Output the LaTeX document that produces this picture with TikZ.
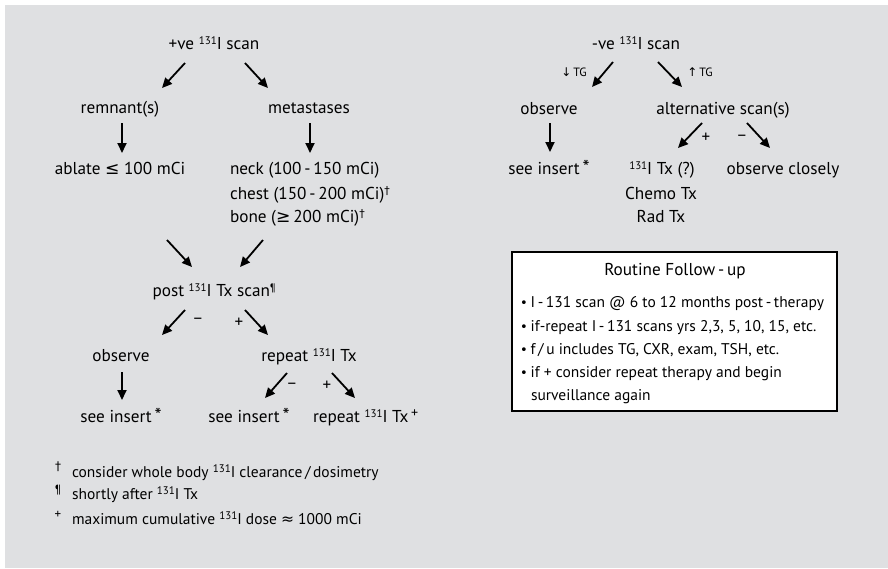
\documentclass[tikz,border=0pt]{standalone}
\usepackage{fontspec}
\setmainfont{PT Sans}
\newfontfamily\symf{DejaVu Sans}
\usetikzlibrary{arrows.meta,calc}
\definecolor{panel}{RGB}{223,224,226}
% small raised superscript (isotope mass numbers, footnote marks)
\newcommand{\sups}[1]{\raisebox{5pt}{\fontsize{11}{11}\selectfont #1}}
\newcommand{\iod}{\sups{131}I}
\newcommand{\sym}[1]{{\symf #1}}
\newcommand{\insstar}{\,{\fontsize{20}{20}\selectfont *}}
\begin{document}
\begin{tikzpicture}[x=1pt,y=-1pt,
  every node/.style={inner sep=0pt,outer sep=0pt,font=\fontsize{17.2}{23}\selectfont},
  txt/.style={anchor=base},
  ltxt/.style={anchor=base west},
  small/.style={font=\fontsize{15.5}{23}\selectfont},
  arr/.style={line width=1.8pt,-{Triangle[length=10pt,width=9pt]}},
  sgn/.style={font=\fontsize{17}{17}\selectfont},
  tg/.style={font=\fontsize{12}{12}\selectfont},
  fubox/.style={draw=black,line width=1.2pt,fill=white,minimum width=325pt,minimum height=159pt}]
\useasboundingbox (0,0) rectangle (888,568);
\fill[white] (0,0) rectangle (888,568);
\fill[panel] (5,5) rectangle (888,568);

% ---------- positive scan branch ----------
\node[txt] (pos) at (214,49) {+ve \iod\ scan};
\node[txt] (rem) at (120,113) {remnant(s)};
\node[txt] (met) at (309,113) {metastases};
\node[txt] (abl) at (120,174) {ablate \sym{≤} 100 mCi};
\node[ltxt] (neck) at (230,174) {neck (100\,-\,150 mCi)};
\node[ltxt] (chest) at (230,199) {chest (150\,-\,200 mCi)\sups{\sym{†}}};
\node[ltxt] (bone) at (230,222) {bone (\sym{≥}\,200 mCi)\sups{\sym{†}}};
\node[txt] (post) at (214,296) {post \iod\ Tx scan\sups{¶}};
\node[txt] (obs1) at (121,361) {observe};
\node[txt] (rep1) at (309,361) {repeat \iod\ Tx};
\node[txt] (see1) at (121,422) {see insert\insstar};
\node[txt] (see2) at (249,422) {see insert\insstar};
\node[ltxt] (rep2) at (313,422) {repeat \iod\ Tx\,\sups{\fontsize{14}{14}\selectfont +}};

\coordinate (a1s) at (185,63);  \coordinate (a1e) at (162,88);
\coordinate (a2s) at (245,63);  \coordinate (a2e) at (268,88);
\coordinate (a3s) at (122,123); \coordinate (a3e) at (122,153);
\coordinate (a4s) at (310,123); \coordinate (a4e) at (310,153);
\coordinate (a5s) at (167,240); \coordinate (a5e) at (192,267);
\coordinate (a6s) at (263,240); \coordinate (a6e) at (240,267);
\coordinate (a7s) at (185,310); \coordinate (a7e) at (162,335);
\coordinate (a8s) at (245,310); \coordinate (a8e) at (268,335);
\coordinate (a9s) at (122,372); \coordinate (a9e) at (122,400);
\coordinate (a10s) at (287,373); \coordinate (a10e) at (265,398);
\coordinate (a11s) at (332,373); \coordinate (a11e) at (355,398);
\foreach \i in {1,...,11} \draw[arr] (a\i s) -- (a\i e);
\node[sgn] (m1) at (198,321) {−};
\node[sgn] (p1) at (239,323) {+};
\node[sgn] (m2) at (292,386) {−};
\node[sgn] (p2) at (327,386) {+};

% ---------- footnotes ----------
\node[anchor=base] (fn1m) at (58,470) {\fontsize{12}{12}\selectfont\sym{†}};
\node[ltxt,small] (fn1) at (72,477) {consider whole body \iod\ clearance\,/\,dosimetry};
\node[anchor=base] (fn2m) at (58,493) {\fontsize{12}{12}\selectfont ¶};
\node[ltxt,small] (fn2) at (72,499) {shortly after \iod\ Tx};
\node[anchor=base] (fn3m) at (58,518) {\fontsize{13}{13}\selectfont +};
\node[ltxt,small] (fn3) at (72,524) {maximum cumulative \iod\ dose \sym{≈} 1000 mCi};

% ---------- negative scan branch ----------
\node[txt] (neg) at (636,49) {-ve \iod\ scan};
\node[txt] (obs2) at (549,114) {observe};
\node[txt] (alt) at (723,114) {alternative scan(s)};
\node[txt] (see3) at (549,174) {see insert\insstar};
\node[txt] (itx) at (662,174) {\iod\ Tx (?)};
\node[txt] (chemo) at (661,199) {Chemo Tx};
\node[txt] (rad) at (661,222) {Rad Tx};
\node[txt] (obsc) at (783,174) {observe closely};

\coordinate (b1s) at (613,62);  \coordinate (b1e) at (592,87);
\coordinate (b2s) at (658,62);  \coordinate (b2e) at (682,87);
\coordinate (b3s) at (550,123); \coordinate (b3e) at (550,152);
\coordinate (b4s) at (702,123); \coordinate (b4e) at (678,148);
\coordinate (b5s) at (747,123); \coordinate (b5e) at (770,148);
\foreach \i in {1,...,5} \draw[arr] (b\i s) -- (b\i e);
\node[tg] (tgd) at (574,72) {\sym{↓}\,TG};
\node[tg] (tgu) at (700,72) {\sym{↑}\,TG};
\node[sgn] (p3) at (706,138) {+};
\node[sgn] (m3) at (742,138) {−};

% ---------- routine follow-up box ----------
\node[fubox] (fu) at (674.5,331.5) {};
\node[txt] (futitle) at (675,275) {Routine Follow\,-\,up};
\foreach \y/\t in {307/{I\,-\,131 scan @ 6 to 12 months post\,-\,therapy},
                   331/{if-repeat I\,-\,131 scans yrs 2,3, 5, 10, 15, etc.},
                   354/{f\,/\,u includes TG, CXR, exam, TSH, etc.},
                   377/{if + consider repeat therapy and begin}}
  \node[ltxt,small] at (520,\y) {\sym{\fontsize{13}{13}\selectfont •}\hspace{3pt}\t};
\node[ltxt,small] (fulast) at (531,400) {surveillance again};
\end{tikzpicture}
\end{document}
